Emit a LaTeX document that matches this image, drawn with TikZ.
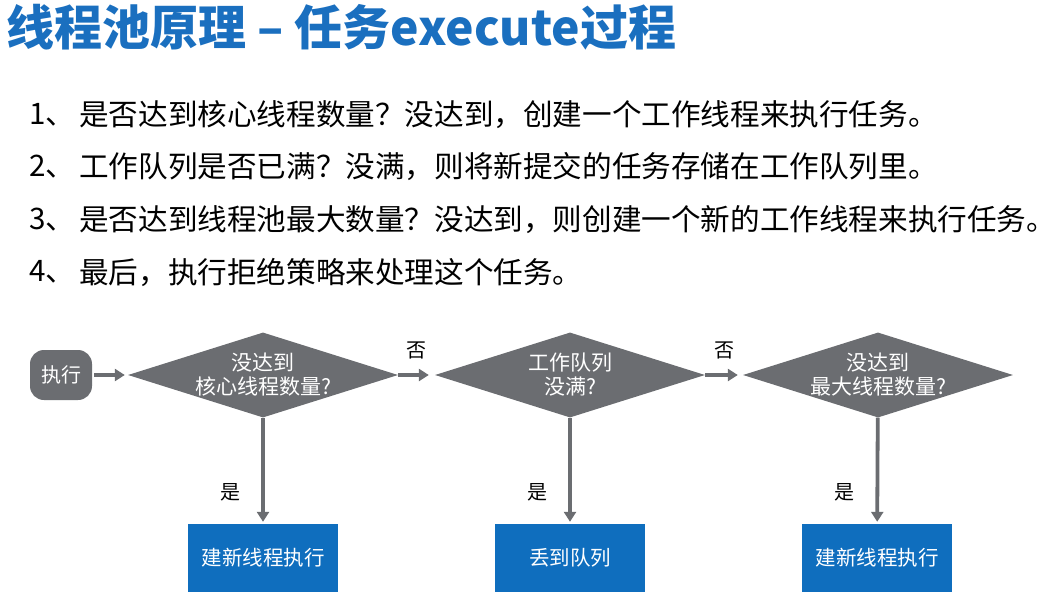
\documentclass[tikz,border=0pt]{standalone}
\usepackage{fontspec}
\setmainfont{Noto Sans CJK SC}
\usetikzlibrary{arrows.meta,positioning,shapes.geometric}
\definecolor{titleblue}{HTML}{1A6FBF}
\definecolor{flowgray}{HTML}{6B6D71}
\definecolor{boxblue}{HTML}{0F6EBE}
\newcommand{\pxfont}[2]{\fontsize{#1}{#2}\selectfont}

\begin{document}
\begin{tikzpicture}[x=1pt,y=-1pt,
  decision/.style={diamond,fill=flowgray,minimum width=270pt,minimum height=85pt,inner sep=0pt},
  dtext/.style={text=white,align=center,font=\pxfont{21}{24},inner sep=0pt},
  result/.style={rectangle,fill=boxblue,text=white,minimum width=150pt,minimum height=68pt,font=\pxfont{20.5}{24}},
  flow/.style={flowgray,line width=3.8pt,-{Triangle[length=10pt,width=12pt]}},
  answer/.style={font=\pxfont{20}{22},text=black,inner sep=0pt},
  item/.style={anchor=west,font=\pxfont{29.6}{32},inner sep=0pt}]
  \useasboundingbox (0,0) rectangle (1062,607);
  \node[anchor=west,inner sep=0pt,text=titleblue,font=\pxfont{48}{52}\bfseries] (title) at (6,27) {线程池原理 – 任务execute过程};
  % steps
  \foreach \n/\y/\txt in {1/115/是否达到核心线程数量？没达到，创建一个工作线程来执行任务。,
                         2/167/工作队列是否已满？没满，则将新提交的任务存储在工作队列里。,
                         3/220/是否达到线程池最大数量？没达到，则创建一个新的工作线程来执行任务。,
                         4/272/最后，执行拒绝策略来处理这个任务。}
     {\node[item] (num\n) at (29,\y) {\n、};
      \node[item] (step\n) at (79,\y) {\txt};}
  % flow chart
  \node[rectangle,rounded corners=14pt,fill=flowgray,text=white,minimum width=62pt,minimum height=50pt,font=\pxfont{20}{24}] (start) at (61,375) {执行};
  \node[decision,label={[dtext]center:{没达到\\核心线程数量?}}] (core) at (263,375) {};
  \node[decision,label={[dtext]center:{工作队列\\没满?}}] (queue) at (570,375) {};
  \node[decision,label={[dtext]center:{没达到\\最大线程数量?}}] (max) at (878,375) {};
  \node[result] (new1) at (263,558) {建新线程执行};
  \node[result] (enq) at (570,558) {丢到队列};
  \node[result] (new2) at (877,558) {建新线程执行};
  \draw[flow,shorten <=2pt,shorten >=3pt] (start) -- (core);
  \draw[flow,shorten >=6pt] (core) -- node[answer,midway,above=14pt] (no1) {否} (queue);
  \draw[flow,shorten >=5pt] (queue) -- node[answer,midway,above=14pt] (no2) {否} (max);
  \draw[flow,shorten >=2pt] (core) -- node[answer,pos=0.7,left=21pt] (yes1) {是} (new1);
  \draw[flow,shorten >=2pt] (queue) -- node[answer,pos=0.7,left=21pt] (yes2) {是} (enq);
  \draw[flow,shorten >=2pt] (max) -- node[answer,pos=0.7,left=21pt] (yes3) {是} (new2);
\end{tikzpicture}
\end{document}
